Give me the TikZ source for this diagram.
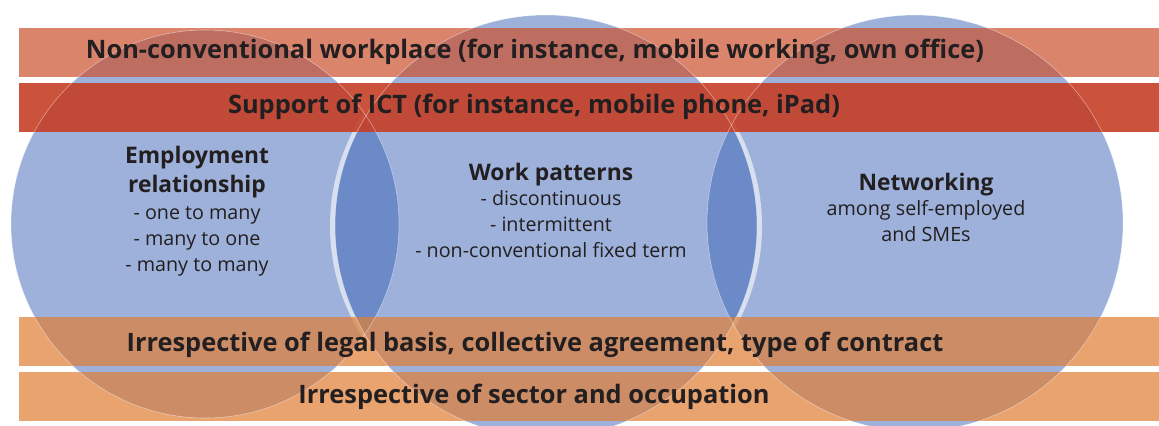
\documentclass[tikz,border=0pt]{standalone}
\usepackage{fontspec}
\setmainfont{Open Sans}
\definecolor{circblue}{RGB}{59,99,181}
\definecolor{topband}{RGB}{204,84,51}
\definecolor{ictband}{RGB}{197,63,38}
\definecolor{lowband}{RGB}{223,127,56}
\definecolor{textdark}{RGB}{35,31,32}
\begin{document}
\begin{tikzpicture}[x=0.5pt,y=-0.5pt]
   \tikzset{ring/.style = {fill=circblue,fill opacity=0.5},
            band/.style = {fill opacity=0.72},
            rim/.style = {draw=white,draw opacity=0.45,line width=0.3pt},
            bandtext/.style = {anchor=base,font=\bfseries\fontsize{12.7}{15}\selectfont,text=textdark},
            headtext/.style = {anchor=base,align=center,font=\bfseries\fontsize{11.4}{14.5}\selectfont,text=textdark},
            listtext/.style = {anchor=base,align=center,font=\fontsize{9.85}{12.8}\selectfont,text=textdark}}
   \useasboundingbox (0,0) rectangle (1159,425);
   \clip (0,0) rectangle (1159,425);

   % circles
   \fill[ring] (205,224) circle (194);
   \fill[ring] (915,223) circle (208);
   \fill[white,fill opacity=0.6,even odd rule] (546,226) ellipse (216 and 211) (546,226) circle (211);
   \fill[ring] (546,226) circle (211);

   % bands
   \fill[band,fill=topband] (19,28) rectangle (1159,77);
   \fill[band,fill=ictband,fill opacity=0.9] (19,83) rectangle (1159,132);
   \fill[band,fill=lowband] (19,317) rectangle (1159,366);
   \fill[band,fill=lowband] (19,372) rectangle (1159,421);

   % circle edges through the bands
   \draw[rim] (205,224) circle (194);
   \draw[rim] (546,226) circle (211);
   \draw[rim] (915,223) circle (208);

   \node[bandtext] (workplace) at (535,58) {Non-conventional workplace (for instance, mobile working, own office)};
   \node[bandtext] (ict) at (534,113) {Support of ICT (for instance, mobile phone, iPad)};
   \node[bandtext] (legal) at (535,351) {Irrespective of legal basis, collective agreement, type of contract};
   \node[bandtext] (sector) at (534,403) {Irrespective of sector and occupation};

   % base anchor of a multi-line node = last line
   \node[headtext] (emphead) at (197,192) {Employment\\relationship};
   \node[listtext] (emplist) at (197,271) {- one to many\\- many to one\\- many to many};
   \node[headtext] (workhead) at (551,180) {Work patterns};
   \node[listtext] (worklist) at (551,257) {- discontinuous\\- intermittent\\- non-conventional fixed term};
   \node[headtext] (nethead) at (926,190) {Networking};
   \node[listtext] (netlist) at (926,241) {among self-employed\\and SMEs};
\end{tikzpicture}
\end{document}
